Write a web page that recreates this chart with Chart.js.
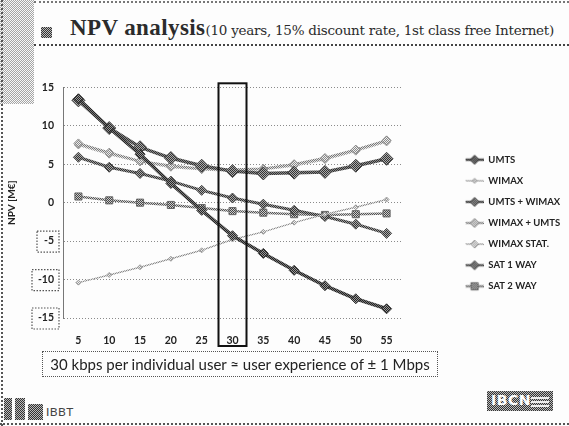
<!DOCTYPE html>
<html>
<head>
<meta charset="utf-8">
<script src="https://cdn.jsdelivr.net/npm/chart.js@4.4.1/dist/chart.umd.min.js"></script>
<style>
  html, body { margin: 0; padding: 0; }
  body { width: 569px; height: 426px; position: relative; overflow: hidden; background: #fdfdfd; font-family: Lato, "Open Sans", sans-serif; }
  .dith { background: repeating-conic-gradient(#6a6a6a 0 25%, #f4f4f4 0 50%) 0 0 / 2px 2px; }
  .dith-dark { background: repeating-conic-gradient(#333 0 25%, #bbb 0 50%) 0 0 / 2px 2px; }
  #leftStrip { position: absolute; left: 0; top: 0; width: 34px; height: 104px; opacity: 0.6; }
  #leftLine { position: absolute; left: 1px; top: 0; width: 2px; height: 426px; border-left: 2px dotted #555; }
  #topLine { position: absolute; left: 34px; top: 1px; width: 535px; border-top: 2px dotted #777; }
  #headLine { position: absolute; left: 34px; top: 44px; width: 535px; border-top: 2px dotted #444; }
  #bottomLine { position: absolute; left: 0; top: 423px; width: 569px; border-top: 2px dotted #555; }
  #bullet { position: absolute; left: 41px; top: 27px; width: 11px; height: 11px; }
  #title { position: absolute; left: 70px; top: 15px; white-space: nowrap; color: #2b2b2b; }
  #title .main { font-family: "Liberation Serif", serif; font-weight: bold; font-size: 23px; letter-spacing: 0.4px; }
  #title .sub { font-family: "DejaVu Serif", serif; font-size: 13.5px; letter-spacing: -0.25px; }
  #chartBox { position: absolute; left: 0; top: 72px; width: 569px; height: 281px; }
  #note { position: absolute; left: 42px; top: 351px; width: 394px; height: 24px; border: 1.5px dotted #555;
          font-size: 15px; line-height: 24px; text-align: center; color: #222; white-space: nowrap; }
  #ibbt { position: absolute; left: 4px; top: 398px; }
  #ibbt .blk { position: absolute; top: 0; height: 22px; }
  #ibbt .txt { position: absolute; left: 42px; top: 6px; font-size: 12px; color: #444; letter-spacing: 0.5px; }
  #ibcn { position: absolute; left: 487px; top: 391px; width: 66px; height: 20px; }
  #ibcn span { position: absolute; left: 4px; top: 1px; font-family: "DejaVu Sans", sans-serif; font-weight: bold; font-size: 14px; color: #fff; letter-spacing: 0.5px; }
  #ibcn i { position: absolute; left: 44px; height: 2px; width: 18px; background: #eee; }
</style>
</head>
<body>
<div id="leftStrip" class="dith"></div>
<div id="leftLine"></div>
<div id="topLine"></div>
<div id="headLine"></div>
<div id="bullet" class="dith-dark"></div>
<div id="title"><span class="main">NPV analysis</span><span class="sub">(10 years, 15% discount rate, 1st class free Internet)</span></div>

<div id="chartBox"><canvas id="npvChart" width="569" height="281"></canvas></div>

<div id="note">30 kbps per individual user ≈ user experience of ± 1 Mbps</div>

<div id="ibbt">
  <div class="blk dith-dark" style="left:0;width:8px"></div>
  <div class="blk dith-dark" style="left:11px;width:10px"></div>
  <div class="blk dith-dark" style="left:24px;width:15px;top:6px;height:16px"></div>
  <div class="txt">IBBT</div>
</div>
<div id="ibcn" class="dith-dark"><span>IBCN</span><i style="top:6px"></i><i style="top:10px"></i><i style="top:14px"></i></div>
<div id="bottomLine"></div>

<script>
// kbps per user on the x axis
const userRates = ["5", "10", "15", "20", "25", "30", "35", "40", "45", "50", "55"];
const yTicks = [15, 10, 5, 0, -5, -10, -15];

// NPV in M€ per technology
const umts       = [13.5, 9.7, 6.3, 2.5, -1.0, -4.3, -6.6, -8.8, -10.8, -12.5, -13.8];
const wimax      = [-10.4, -9.4, -8.4, -7.3, -6.2, -4.8, -3.8, -2.6, -1.5, -0.6, 0.4];
const umtsWimax  = [13.3, 9.7, 7.2, 5.8, 4.8, 4.1, 3.8, 3.9, 4.0, 4.8, 5.7];
const wimaxUmts  = [7.7, 6.5, 5.4, 4.8, 4.4, 4.3, 4.4, 5.0, 5.8, 6.9, 8.1];
const wimaxStat  = [7.5, 6.3, 5.3, 4.6, 4.3, 4.1, 4.3, 4.8, 5.6, 6.7, 7.9];
const sat1Way    = [5.9, 4.6, 3.8, 2.8, 1.6, 0.6, -0.2, -1.0, -1.8, -2.8, -4.0];
const sat2Way    = [0.8, 0.3, 0.0, -0.3, -0.7, -1.1, -1.3, -1.5, -1.6, -1.5, -1.4];

const canvas = document.getElementById("npvChart");
const ctx = canvas.getContext("2d");

// small checker tile so lines and markers get the printed grey look
function dither(a, b) {
    const t = document.createElement("canvas");
    t.width = 2; t.height = 2;
    const c = t.getContext("2d");
    c.fillStyle = b; c.fillRect(0, 0, 2, 2);
    c.fillStyle = a; c.fillRect(0, 0, 1, 1); c.fillRect(1, 1, 1, 1);
    return ctx.createPattern(t, "repeat");
}

const styles = [
    { label: "UMTS",         data: umts,      line: dither("#222", "#777"), fill: dither("#222", "#999"), edge: "#333", width: 3.5, shape: "rectRot", r: 5 },
    { label: "WIMAX",        data: wimax,     line: dither("#888", "#ddd"), fill: dither("#999", "#eee"), edge: "#999", width: 1.5, shape: "rectRot", r: 2.5 },
    { label: "UMTS + WIMAX", data: umtsWimax, line: dither("#333", "#888"), fill: dither("#333", "#aaa"), edge: "#444", width: 3.5, shape: "rectRot", r: 6.5 },
    { label: "WIMAX + UMTS", data: wimaxUmts, line: dither("#777", "#ddd"), fill: dither("#888", "#eee"), edge: "#888", width: 2.5, shape: "rectRot", r: 4.5 },
    { label: "WIMAX STAT.",  data: wimaxStat, line: dither("#999", "#eee"), fill: dither("#999", "#f4f4f4"), edge: "#999", width: 2, shape: "rectRot", r: 4 },
    { label: "SAT 1 WAY",    data: sat1Way,   line: dither("#333", "#999"), fill: dither("#333", "#aaa"), edge: "#444", width: 3, shape: "rectRot", r: 5 },
    { label: "SAT 2 WAY",    data: sat2Way,   line: dither("#555", "#ccc"), fill: dither("#444", "#ccc"), edge: "#666", width: 2.5, shape: "rect", r: 5 }
];

// legend swatch: blank lead-in then a short line with the marker on it
const SWATCH_W = 70;
function swatch(s) {
    const c = document.createElement("canvas");
    c.width = SWATCH_W; c.height = 14;
    const g = c.getContext("2d");
    const cx = SWATCH_W - 9, cy = 7;
    g.strokeStyle = s.line; g.lineWidth = Math.min(s.width, 2.5);
    g.beginPath(); g.moveTo(SWATCH_W - 18, cy); g.lineTo(SWATCH_W, cy); g.stroke();
    g.fillStyle = s.fill; g.strokeStyle = s.edge; g.lineWidth = 1;
    const r = Math.min(s.r, 4.5);
    g.beginPath();
    if (s.shape === "rect") {
        g.rect(cx - r * 0.8, cy - r * 0.8, r * 1.6, r * 1.6);
    } else {
        g.moveTo(cx, cy - r); g.lineTo(cx + r, cy); g.lineTo(cx, cy + r); g.lineTo(cx - r, cy); g.closePath();
    }
    g.fill(); g.stroke();
    return c;
}

const datasets = styles.map(s => ({
    label: s.label,
    data: s.data,
    borderColor: s.line,
    borderWidth: s.width,
    pointStyle: s.shape,
    pointRadius: s.r,
    pointBackgroundColor: s.fill,
    pointBorderColor: s.edge,
    pointBorderWidth: 1,
    tension: 0,
    fill: false
}));

// dotted boxes round the negative y labels and the solid frame round the 30 kbps column
const highlights = {
    id: "highlights",
    afterDraw(chart) {
        const c = chart.ctx;
        const y = chart.scales.y, x = chart.scales.x;
        const area = chart.chartArea;
        c.save();
        c.strokeStyle = "#555";
        c.lineWidth = 1.2;
        c.setLineDash([1.5, 1.5]);
        [-5, -10, -15].forEach(v => {
            const py = y.getPixelForValue(v);
            const w = v === -5 ? 19 : 24;
            c.strokeRect(y.right - 6 - w - 1, py - 10, w + 3, 21);
        });
        c.setLineDash([]);
        c.strokeStyle = "#111";
        c.lineWidth = 2;
        const px = x.getPixelForValue(5);
        c.strokeRect(px - 14, area.top - 4, 28, area.bottom - area.top + 32);
        c.restore();
    }
};

const tickFont = { family: "Lato", size: 10.5, weight: "bold" };

new Chart(ctx, {
    type: "line",
    data: { labels: userRates, datasets: datasets },
    options: {
        responsive: false,
        animation: false,
        events: [],
        layout: { autoPadding: false, padding: { left: 6, top: 9, right: 0, bottom: 0 } },
        plugins: {
            tooltip: { enabled: false },
            legend: {
                position: "right",
                align: "center",
                maxWidth: 167,
                title: { display: true, text: "", font: { size: 10 }, padding: 0 },
                labels: {
                    usePointStyle: true,
                    pointStyleWidth: SWATCH_W,
                    padding: 11.6,
                    color: "#222",
                    font: { family: "Lato", size: 9.5, weight: "bold" },
                    generateLabels(chart) {
                        return styles.map((s, i) => ({
                            text: s.label,
                            pointStyle: swatch(s),
                            fillStyle: "transparent",
                            strokeStyle: "transparent",
                            lineWidth: 0,
                            fontColor: "#222",
                            datasetIndex: i,
                            hidden: false
                        }));
                    }
                }
            }
        },
        scales: {
            x: {
                offset: true,
                grid: { display: false },
                border: { display: false },
                ticks: { color: "#222", font: tickFont, padding: 8, maxRotation: 0 },
                afterFit(scale) { scale.height = 35; }
            },
            y: {
                min: -15,
                max: 15,
                afterBuildTicks(scale) { scale.ticks = yTicks.map(v => ({ value: v })); },
                grid: { color: "#8a8a8a", lineWidth: 1, drawTicks: false },
                border: { display: true, color: "#777", width: 1, dash: [1, 2] },
                ticks: { color: "#222", font: tickFont, padding: 9 },
                title: { display: true, text: "NPV [M€]", color: "#222", font: { family: "Lato", size: 10, weight: "bold" }, padding: 0 },
                afterFit(scale) { scale.width = 57; }
            }
        }
    },
    plugins: [highlights]
});
</script>
</body>
</html>
